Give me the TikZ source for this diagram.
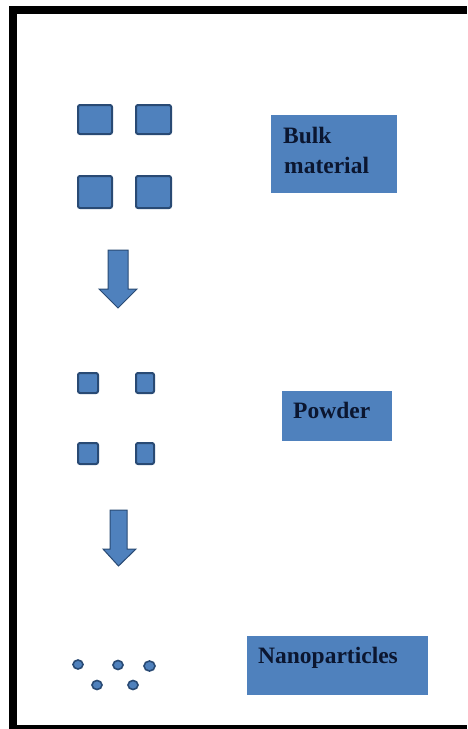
\documentclass[tikz,border=0pt]{standalone}
\usepackage{fontspec}
\setmainfont{Liberation Serif}
\usetikzlibrary{positioning,shapes.geometric}
\definecolor{boxblue}{HTML}{4F81BD}
\definecolor{edgeblue}{HTML}{294A74}
\definecolor{inkblue}{HTML}{0B1630}
\begin{document}
\begin{tikzpicture}[x=1pt,y=-1pt,
  particle/.style={fill=boxblue,draw=edgeblue,line width=2pt,rounded corners=2pt,
    inner sep=0pt,anchor=north west},
  dot/.style={ellipse,fill=boxblue,draw=edgeblue,line width=1.6pt,inner sep=0pt,
    minimum width=10pt,minimum height=9pt},
  labelbox/.style={fill=boxblue,draw=none,inner sep=0pt,anchor=north west},
  lbl/.style={text=inkblue,font=\bfseries\fontsize{23.5}{28}\selectfont,inner sep=0pt,
    anchor=base west},
  downarrow/.style={fill=boxblue,draw=edgeblue,line width=1pt,line join=miter}]
  \useasboundingbox (0,0) rectangle (467,729);
  \fill[white] (0,0) rectangle (467,729);

  % black frame (left, top and bottom bars)
  \fill[black] (9,6) rectangle (17,729);
  \fill[black] (9,6) rectangle (467,14);
  \fill[black] (9,725) rectangle (467,729);

  % bulk material: four large grains
  \node[particle,minimum width=34pt,minimum height=29pt] (b1) at (77,104) {};
  \node[particle,minimum width=35pt,minimum height=29pt] (b2) at (135,104) {};
  \node[particle,minimum width=34pt,minimum height=32pt] (b3) at (77,175) {};
  \node[particle,minimum width=35pt,minimum height=32pt] (b4) at (135,175) {};

  \node[labelbox,minimum width=126pt,minimum height=78pt] (bulk) at (271,115) {};
  \node[lbl] (bulkA) at ([xshift=12pt,yshift=-28pt]bulk.north west) {Bulk};
  \node[lbl] (bulkB) at ([xshift=13pt,yshift=-58pt]bulk.north west) {material};

  % first step arrow
  \draw[downarrow] (108,250) -- (128,250) -- (128,289) -- (137,289) -- (118,308)
    -- (99,289) -- (108,289) -- cycle;

  % powder: four small grains
  \node[particle,minimum width=20pt,minimum height=20pt] (p1) at (77,372) {};
  \node[particle,minimum width=18pt,minimum height=20pt] (p2) at (135,372) {};
  \node[particle,minimum width=20pt,minimum height=21pt] (p3) at (77,442) {};
  \node[particle,minimum width=18pt,minimum height=21pt] (p4) at (135,442) {};

  \node[labelbox,minimum width=110pt,minimum height=50pt] (powder) at (282,391) {};
  \node[lbl] (powderT) at ([xshift=11pt,yshift=-27pt]powder.north west) {Powder};

  % second step arrow
  \draw[downarrow] (110,510) -- (127,510) -- (127,549) -- (136,549) -- (118.5,566)
    -- (103,549) -- (110,549) -- cycle;

  % nanoparticles
  \node[dot] (n1) at (78,664.5) {};
  \node[dot] (n2) at (118,665) {};
  \node[dot,minimum width=11pt,minimum height=10pt] (n3) at (149.5,666) {};
  \node[dot] (n4) at (97,685) {};
  \node[dot] (n5) at (133,685) {};

  \node[labelbox,minimum width=181pt,minimum height=59pt] (nano) at (247,636) {};
  \node[lbl] (nanoT) at ([xshift=11pt,yshift=-27pt]nano.north west) {Nanoparticles};
\end{tikzpicture}
\end{document}
